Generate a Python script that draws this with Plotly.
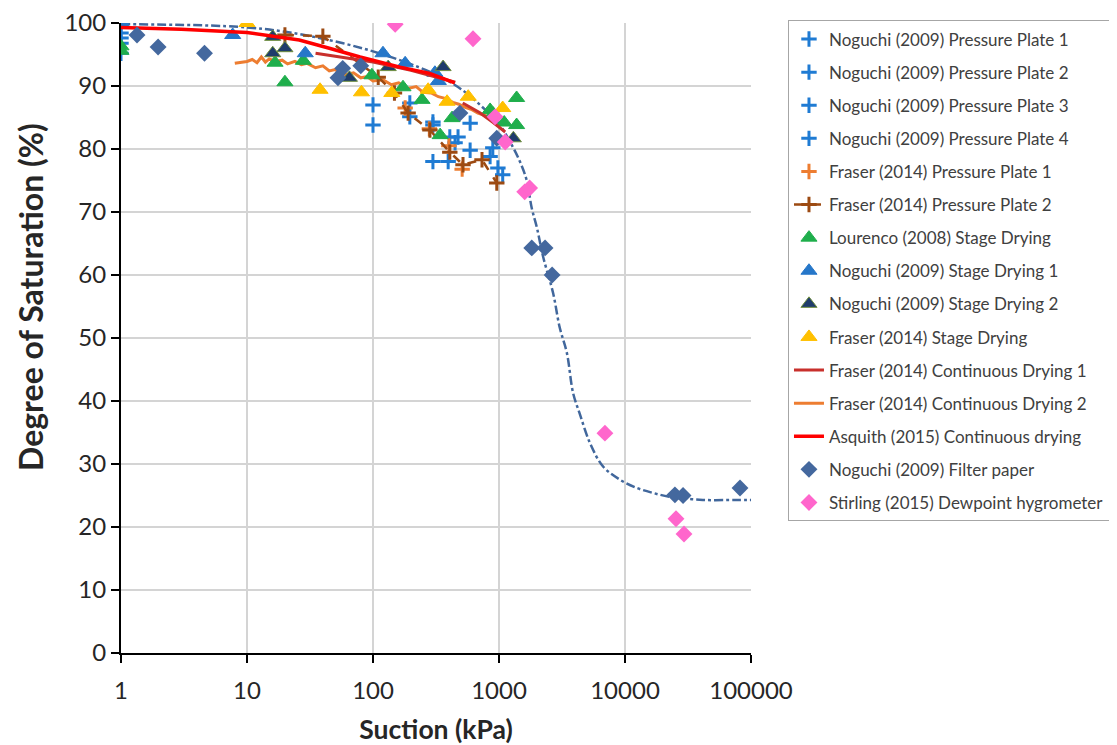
import plotly.graph_objects as go

# ---------------- data (suction kPa, degree of saturation %) ----------------
nog_pp1_x = [1, 1, 100, 100, 196, 299]
nog_pp1_y = [100, 98.4, 87, 83.8, 87.3, 84.3]
nog_pp2_x = [1, 196, 299, 407, 473, 590]
nog_pp2_y = [97.6, 85.1, 83.8, 81.9, 81.9, 84.1]
nog_pp3_x = [1, 448, 590, 299, 395]
nog_pp3_y = [96.8, 81.0, 79.8, 78.0, 78.0]
nog_pp4_x = [1, 893, 850, 980, 1070]
nog_pp4_y = [95.2, 80.2, 78.8, 77.0, 75.9]

fra_pp1_x = [180, 280, 400, 510]
fra_pp1_y = [86.5, 83.2, 80.5, 76.8]
fra_pp2_x = [20, 40, 110, 148, 190, 283, 407, 518, 733, 960]
fra_pp2_y = [98.1, 97.9, 91.4, 88.9, 85.7, 83.0, 79.5, 77.5, 78.3, 74.6]

lou_sd_x = [1, 1, 16.7, 20, 28, 98, 173, 245, 341, 424, 850, 900, 1100, 1380, 1380]
lou_sd_y = [96.3, 95.6, 93.7, 90.6, 94.0, 91.7, 89.8, 87.8, 82.2, 84.9, 86.2, 85.6, 84.2, 88.1, 83.8]

nog_sd1_x = [1, 7.7, 29, 120, 180, 310, 330]
nog_sd1_y = [100, 98.1, 95.2, 95.2, 93.6, 92.1, 90.8]
nog_sd2_x = [16, 16, 20, 65, 132, 360, 1300]
nog_sd2_y = [97.8, 95.2, 96.0, 91.3, 93.0, 93.0, 81.7]
fra_sd_x = [10, 38, 81, 141, 274, 387, 570, 1070]
fra_sd_y = [100, 89.4, 89.0, 88.9, 89.4, 87.5, 88.3, 86.5]

fra_cd1_x = [35, 60, 100, 200, 300, 450, None, 515, 700, 900, 1120]
fra_cd1_y = [95.2, 94.5, 93.8, 92.5, 91.6, 90.6, None, 87.3, 85.8, 84.2, 82.7]
fra_cd2_x = [8, 9, 10, 11, 12, 13, 14, 15, 17, 19, 21, 24, 27, 30, 35, 40, 45, 50, 60, 70,
             80, 90, 100, 120, 140, 160, 190, 220, 250, 290, 330, 380, 430, 480, 540, 600,
             680, 760, 850, 950]
fra_cd2_y = [93.6, 93.8, 93.9, 94.2, 93.7, 94.6, 93.8, 94.3, 93.9, 94.1, 93.5, 93.9, 93.4,
             93.6, 92.9, 93.2, 92.4, 92.6, 91.8, 92.1, 91.3, 91.5, 90.8, 91.0, 90.2, 90.5,
             89.6, 89.9, 89.0, 88.9, 88.3, 88.0, 87.4, 87.1, 86.6, 86.3, 85.7, 85.4, 84.9, 84.5]
asq_cd_x = [1, 3, 10, 26, 45, 79, 164, 282, 445]
asq_cd_y = [99.3, 99.0, 98.5, 97.3, 96.0, 94.6, 93.0, 92.0, 90.5]

nog_fp_x = [1.34, 1.97, 4.6, 52.7, 57.5, 80, 490, 960, 1820, 2320, 2640, 24900, 28900, 81800]
nog_fp_y = [98.1, 96.2, 95.2, 91.3, 92.8, 93.2, 85.7, 81.7, 64.3, 64.3, 60.0, 25.1, 25.0, 26.2]
sti_dp_x = [150, 622, 930, 1120, 1600, 1750, 6930, 25400, 29400]
sti_dp_y = [99.8, 97.5, 85.1, 81.1, 73.2, 73.8, 34.9, 21.3, 18.9]

fit_x = [1, 10, 30, 100, 300, 500, 800, 1000, 1290, 1480, 1660, 1820, 2000, 2240, 2690,
         3030, 3460, 3870, 4370, 5280, 6700, 9130, 12400, 16700, 22700, 41500, 77600, 104000]
fit_y = [99.8, 99.3, 98.0, 95.5, 92.0, 89.5, 86.0, 84.0, 80.3, 77.8, 75.0, 70.6, 67.5, 62.9,
         57.1, 51.7, 47.6, 41.3, 38.0, 33.3, 29.6, 27.5, 26.2, 25.4, 24.8, 24.3, 24.3, 24.3]

x_tickvals = [1, 10, 100, 1000, 10000, 100000]
x_ticktext = ["1", "10", "100", "1000", "10000", "100000"]

# ---------------- figure ----------------
fig = go.Figure()

def cross(name, x, y, color):
    fig.add_trace(go.Scatter(x=x, y=y, mode="markers", name=name, legendgroup=name,
                             marker=dict(symbol="cross-thin", size=11,
                                         line=dict(color=color, width=3))))

def tri(name, x, y, color, edge=None):
    fig.add_trace(go.Scatter(x=x, y=y, mode="markers", name=name, legendgroup=name,
                             marker=dict(symbol="triangle-up", size=14, color=color,
                                         line=dict(color=edge or color, width=1))))

def line(name, x, y, color, width=3):
    fig.add_trace(go.Scatter(x=x, y=y, mode="lines", name=name, legendgroup=name,
                             line=dict(color=color, width=width)))

# fitted dash-dot curve (no legend entry)
fig.add_trace(go.Scatter(x=fit_x, y=fit_y, mode="lines", showlegend=False,
                         line=dict(color="#41679c", width=2.5, dash="dashdot", shape="spline")))

line("Fraser (2014) Continuous Drying 2", fra_cd2_x, fra_cd2_y, "#ed7d31", 3)

blue = "#1f7bd3"
cross("Noguchi (2009) Pressure Plate 1", nog_pp1_x, nog_pp1_y, blue)
cross("Noguchi (2009) Pressure Plate 2", nog_pp2_x, nog_pp2_y, blue)
cross("Noguchi (2009) Pressure Plate 3", nog_pp3_x, nog_pp3_y, blue)
cross("Noguchi (2009) Pressure Plate 4", nog_pp4_x, nog_pp4_y, blue)
cross("Fraser (2014) Pressure Plate 1", fra_pp1_x, fra_pp1_y, "#ed7d31")
fig.add_trace(go.Scatter(x=fra_pp2_x, y=fra_pp2_y, mode="lines+markers",
                         name="Fraser (2014) Pressure Plate 2",
                         legendgroup="Fraser (2014) Pressure Plate 2",
                         line=dict(color="#9c4a12", width=2.5, dash="dash"),
                         marker=dict(symbol="cross-thin", size=11,
                                     line=dict(color="#9c4a12", width=3))))
tri("Lourenco (2008) Stage Drying", lou_sd_x, lou_sd_y, "#1fae4c")
tri("Noguchi (2009) Stage Drying 1", nog_sd1_x, nog_sd1_y, "#2677c9")
tri("Noguchi (2009) Stage Drying 2", nog_sd2_x, nog_sd2_y, "#1f3c6b", "#6f8f3e")
tri("Fraser (2014) Stage Drying", fra_sd_x, fra_sd_y, "#ffc000")

line("Fraser (2014) Continuous Drying 1", fra_cd1_x, fra_cd1_y, "#c8302c", 3)
line("Asquith (2015) Continuous drying", asq_cd_x, asq_cd_y, "#ff0000", 3.5)

fig.add_trace(go.Scatter(x=nog_fp_x, y=nog_fp_y, mode="markers",
                         name="Noguchi (2009) Filter paper",
                         legendgroup="Noguchi (2009) Filter paper",
                         marker=dict(symbol="diamond", size=13, color="#44689e")))
fig.add_trace(go.Scatter(x=sti_dp_x, y=sti_dp_y, mode="markers",
                         name="Stirling (2015) Dewpoint hygrometer",
                         legendgroup="Stirling (2015) Dewpoint hygrometer",
                         marker=dict(symbol="diamond", size=13, color="#ff66cc")))

# legend order as in the reference
order = ["Noguchi (2009) Pressure Plate 1", "Noguchi (2009) Pressure Plate 2",
         "Noguchi (2009) Pressure Plate 3", "Noguchi (2009) Pressure Plate 4",
         "Fraser (2014) Pressure Plate 1", "Fraser (2014) Pressure Plate 2",
         "Lourenco (2008) Stage Drying", "Noguchi (2009) Stage Drying 1",
         "Noguchi (2009) Stage Drying 2", "Fraser (2014) Stage Drying",
         "Fraser (2014) Continuous Drying 1", "Fraser (2014) Continuous Drying 2",
         "Asquith (2015) Continuous drying", "Noguchi (2009) Filter paper",
         "Stirling (2015) Dewpoint hygrometer"]
for tr in fig.data:
    if tr.name in order:
        tr.legendrank = order.index(tr.name) + 1

# page body has an 8px margin: figure is offset so the plot area lands at
# x 121..751, y 23..653 in the window
fig.update_layout(
    width=1109, height=737,
    margin=dict(l=113, r=366, t=15, b=92, autoexpand=False),
    paper_bgcolor="white", plot_bgcolor="white",
    font=dict(family="Lato, Carlito, sans-serif", color="#404040"),
    showlegend=True,
    legend=dict(x=1.0587, y=1.004, xanchor="left", yanchor="top",
                bordercolor="#a6a6a6", borderwidth=1, bgcolor="white",
                font=dict(size=17, color="#404040"),
                tracegroupgap=8, itemwidth=30, traceorder="grouped",
                maxheight=700),
    xaxis=dict(type="log", range=[0, 5], tickvals=x_tickvals, ticktext=x_ticktext,
               showgrid=True, gridcolor="#d4d4d4", gridwidth=1.5,
               showline=True, linecolor="black", linewidth=2,
               ticks="outside", ticklen=8, tickcolor="black", tickwidth=2,
               tickfont=dict(size=24, color="#262626"), ticklabelstandoff=7,
               ticklabeloverflow="allow",
               title=dict(text="<b>Suction (kPa)</b>", font=dict(size=26.5, color="#262626"),
                          standoff=22),
               zeroline=False),
    yaxis=dict(range=[0, 100], dtick=10, showgrid=True, gridcolor="#d4d4d4", gridwidth=1.5,
               showline=True, linecolor="black", linewidth=2,
               ticks="outside", ticklen=8, tickcolor="black", tickwidth=2,
               tickfont=dict(size=24, color="#262626"), ticklabeloverflow="allow",
               zeroline=False),
    annotations=[dict(text="<b>Degree of Saturation (%)</b>", textangle=-90,
                      xref="paper", yref="paper",
                      x=(30 - 121) / 630, y=(653 - 297) / 630,
                      xanchor="center", yanchor="middle", showarrow=False,
                      font=dict(size=32, color="#262626"))],
)

fig.write_html("out.html")
